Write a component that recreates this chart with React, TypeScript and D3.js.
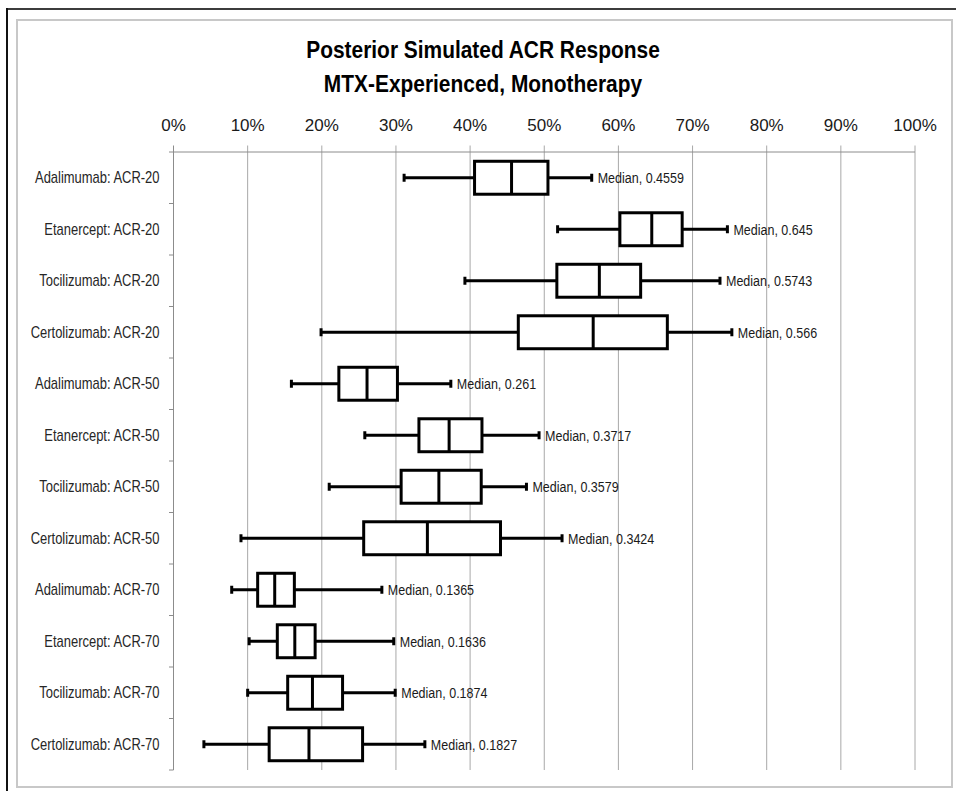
import React from "react";
import * as d3 from "d3";

const titleLines = ["Posterior Simulated ACR Response", "MTX-Experienced, Monotherapy"];

const categories = [
  "Adalimumab: ACR-20",
  "Etanercept: ACR-20",
  "Tocilizumab: ACR-20",
  "Certolizumab: ACR-20",
  "Adalimumab: ACR-50",
  "Etanercept: ACR-50",
  "Tocilizumab: ACR-50",
  "Certolizumab: ACR-50",
  "Adalimumab: ACR-70",
  "Etanercept: ACR-70",
  "Tocilizumab: ACR-70",
  "Certolizumab: ACR-70",
];

const whiskerLow = [0.311, 0.518, 0.393, 0.199, 0.159, 0.258, 0.21, 0.091, 0.0785, 0.102, 0.1, 0.041];
const quartile1 = [0.406, 0.602, 0.517, 0.465, 0.223, 0.331, 0.307, 0.2565, 0.1135, 0.14, 0.154, 0.129];
const medians = [0.4559, 0.645, 0.5743, 0.566, 0.261, 0.3717, 0.3579, 0.3424, 0.1365, 0.1636, 0.1874, 0.1827];
const quartile3 = [0.505, 0.686, 0.63, 0.666, 0.302, 0.416, 0.415, 0.441, 0.163, 0.191, 0.228, 0.255];
const whiskerHigh = [0.564, 0.747, 0.737, 0.753, 0.374, 0.493, 0.476, 0.524, 0.281, 0.297, 0.299, 0.339];

const xTicks = [0, 0.1, 0.2, 0.3, 0.4, 0.5, 0.6, 0.7, 0.8, 0.9, 1.0];

const W = 956;
const H = 791;
const SANS = "'Liberation Sans', Arial, sans-serif";

type TxtProps = {
  x: number;
  y: number;
  sx?: number;
  anchor?: "start" | "middle" | "end";
  size: number;
  weight?: string;
  fill?: string;
  dy?: string;
  children: React.ReactNode;
};

function Txt({ x, y, sx = 1, anchor = "start", size, weight = "normal", fill = "#000", dy, children }: TxtProps) {
  return (
    <text
      transform={`translate(${x},${y}) scale(${sx},1)`}
      textAnchor={anchor}
      fontFamily={SANS}
      fontSize={size}
      fontWeight={weight}
      fill={fill}
      stroke="none"
      dy={dy}
    >
      {children}
    </text>
  );
}

export default function App() {
  const x = d3.scaleLinear().domain([0, 1]).range([173.5, 915]);
  const y = d3.scaleBand<string>().domain(categories).range([152, 770]).padding(0);
  const bw = y.bandwidth();
  const boxH = bw * 0.64;
  const capH = 8;
  const fmt = d3.format(".0%");
  const gridTop = 145.5;
  const gridBottom = 770;

  const rows = categories.map((c, i) => ({
    c,
    lo: whiskerLow[i],
    q1: quartile1[i],
    med: medians[i],
    q3: quartile3[i],
    hi: whiskerHigh[i],
  }));

  return (
    <svg
      width={W}
      height={H}
      style={{ position: "absolute", left: 0, top: 0, background: "#fff" }}
    >
      {/* frame */}
      <line x1={6} x2={W} y1={9} y2={9} stroke="#3c3c3c" strokeWidth={2} />
      <line x1={7} x2={7} y1={8} y2={H} stroke="#111" strokeWidth={2} />
      <rect x={17} y={20} width={935} height={767} fill="#fff" stroke="#c8c8c8" strokeWidth={2} />

      {/* title */}
      {titleLines.map((t, i) => (
        <Txt key={t} x={483} y={58 + i * 33.5} anchor="middle" size={23.5} sx={0.89} weight="bold">
          {t}
        </Txt>
      ))}

      {/* gridlines */}
      {xTicks.map((t) => (
        <line
          key={"g" + t}
          x1={x(t)}
          x2={x(t)}
          y1={gridTop}
          y2={gridBottom}
          stroke={t === 0 ? "#8c8c8c" : "#a8a8a8"}
          strokeWidth={1}
        />
      ))}
      {/* top value axis line */}
      <line x1={169} x2={x(1)} y1={152} y2={152} stroke="#8c8c8c" strokeWidth={1} />
      {/* category ticks */}
      {categories.map((c) => (
        <line
          key={"t" + c}
          x1={169}
          x2={x(0)}
          y1={(y(c) as number) + bw}
          y2={(y(c) as number) + bw}
          stroke="#8c8c8c"
          strokeWidth={1}
        />
      ))}

      {/* tick labels */}
      {xTicks.map((t) => (
        <Txt key={"l" + t} x={x(t)} y={131} anchor="middle" size={17} fill="#1a1a1a">
          {fmt(t)}
        </Txt>
      ))}

      {/* category labels */}
      {categories.map((c) => (
        <Txt
          key={"c" + c}
          x={159.5}
          y={(y(c) as number) + bw / 2}
          dy="0.35em"
          anchor="end"
          size={16}
          sx={0.81}
          fill="#262626"
        >
          {c}
        </Txt>
      ))}

      {/* boxes */}
      {rows.map((r) => {
        const cy = (y(r.c) as number) + bw / 2;
        return (
          <g key={"b" + r.c} stroke="#000" strokeWidth={3} fill="none">
            <line x1={x(r.lo)} x2={x(r.q1)} y1={cy} y2={cy} />
            <line x1={x(r.q3)} x2={x(r.hi)} y1={cy} y2={cy} />
            <line x1={x(r.lo)} x2={x(r.lo)} y1={cy - capH / 2} y2={cy + capH / 2} />
            <line x1={x(r.hi)} x2={x(r.hi)} y1={cy - capH / 2} y2={cy + capH / 2} />
            <rect x={x(r.q1)} y={cy - boxH / 2} width={x(r.q3) - x(r.q1)} height={boxH} fill="#fff" />
            <line x1={x(r.med)} x2={x(r.med)} y1={cy - boxH / 2} y2={cy + boxH / 2} />
            <Txt x={x(r.hi) + 6} y={cy} dy="0.35em" size={15} sx={0.835} fill="#1a1a1a">
              {"Median, " + String(r.med)}
            </Txt>
          </g>
        );
      })}
    </svg>
  );
}
